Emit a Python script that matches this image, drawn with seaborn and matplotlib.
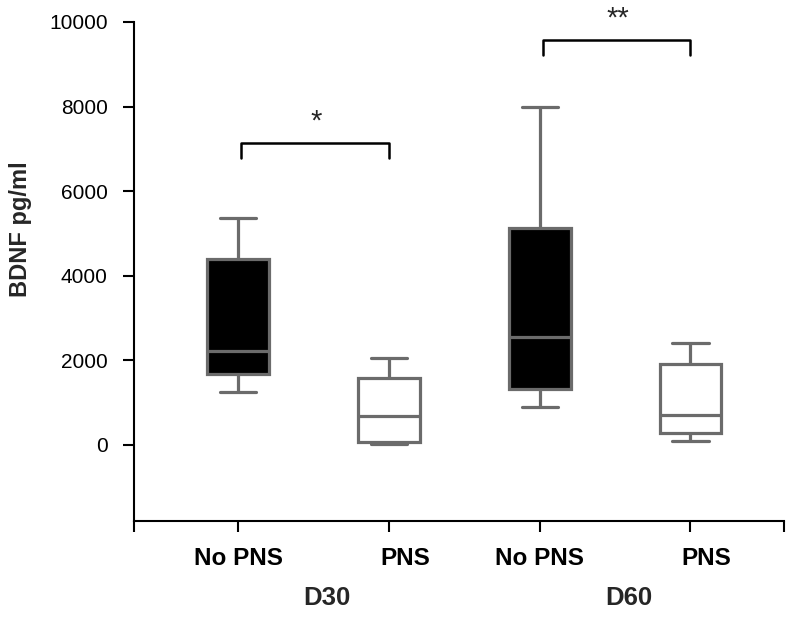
import numpy as np
import pandas as pd
import matplotlib
matplotlib.use("Agg")
import matplotlib.pyplot as plt
import matplotlib.transforms as mtransforms
import seaborn as sns

# ------------------------------------------------------------------
# data: five-number summary per box (min, q1, median, q3, max), pg/ml
# ------------------------------------------------------------------
groups = ["D30 No PNS", "D30 PNS", "D60 No PNS", "D60 PNS"]
treatment = ["No PNS", "PNS", "No PNS", "PNS"]
day_labels = ["D30", "D60"]
d30_no_pns = [1250, 1680, 2220, 4400, 5370]
d30_pns = [20, 60, 680, 1570, 2060]
d60_no_pns = [900, 1330, 2560, 5140, 8000]
d60_pns = [95, 280, 700, 1910, 2420]
y_ticks = [0, 2000, 4000, 6000, 8000, 10000]
# significance: (left group, right group, bracket height, label)
sig_marks = [(0, 1, 7150, "*"), (2, 3, 9580, "**")]

GRAY = "#6b6b6b"
FILL = {"No PNS": "black", "PNS": "white"}

rows = []
for g, t, vals in zip(groups, treatment, [d30_no_pns, d30_pns, d60_no_pns, d60_pns]):
    for v in vals:
        rows.append({"group": g, "treatment": t, "BDNF": v})
df = pd.DataFrame(rows)

sns.set_style("ticks")
plt.rcParams["font.family"] = ["Liberation Sans", "DejaVu Sans"]

fig = plt.figure(figsize=(8, 6.19), dpi=100)
ax = fig.add_axes([0.1675, 0.1583, 0.8125, 0.8062])

sns.boxplot(data=df, x="group", y="BDNF", hue="treatment", order=groups,
            palette=FILL, dodge=False, legend=False, whis=(0, 100),
            width=0.41, linecolor=GRAY, linewidth=2.3, capwidths=0.24,
            ax=ax)

ax.set_xlim(-0.69, 3.62)
ax.set_ylim(-1800, 10000)
ax.set_yticks(y_ticks)
ax.set_yticklabels([str(v) for v in y_ticks], fontsize=15)
ax.set_xticks(range(len(groups)))
ax.set_xticklabels(treatment, fontsize=17.5, fontweight="bold")
ax.set_xticks(ax.get_xlim(), minor=True)
ax.tick_params(axis="x", which="both", length=8, width=1.5, pad=11, colors="black")
ax.tick_params(axis="y", length=8, width=1.5, pad=11, colors="black")
ax.set_xlabel("")
ax.set_ylabel("")
for side in ["top", "right"]:
    ax.spines[side].set_visible(False)
for side in ["left", "bottom"]:
    ax.spines[side].set_linewidth(1.5)
    ax.spines[side].set_color("black")

# nudge the "PNS" labels a bit to the right, as in the original
for lab, t in zip(ax.get_xticklabels(), treatment):
    if t == "PNS":
        lab.set_transform(lab.get_transform() + mtransforms.ScaledTranslation(0.16, 0, fig.dpi_scale_trans))

# day labels under the pairs
trans = mtransforms.blended_transform_factory(ax.transData, ax.transAxes)
for i, d in enumerate(day_labels):
    ax.text(2 * i + 0.59, -0.154, d, transform=trans, ha="center", va="center",
            fontsize=18.5, fontweight="bold")

# significance brackets
for x0, x1, h, lab in sig_marks:
    drop = 370
    ax.plot([x0 + 0.02, x0 + 0.02, x1, x1], [h - drop, h, h, h - drop],
            color="black", lw=1.8, clip_on=False)
    ax.text((x0 + x1) / 2 + 0.02, h + 310, lab, ha="center", va="baseline",
            fontsize=21, clip_on=False)

fig.text(20.5 / 800, 1 - 229 / 619, "BDNF pg/ml", rotation=90, ha="center",
         va="center", fontsize=17, fontweight="bold")

fig.savefig("out.png", dpi=100)
